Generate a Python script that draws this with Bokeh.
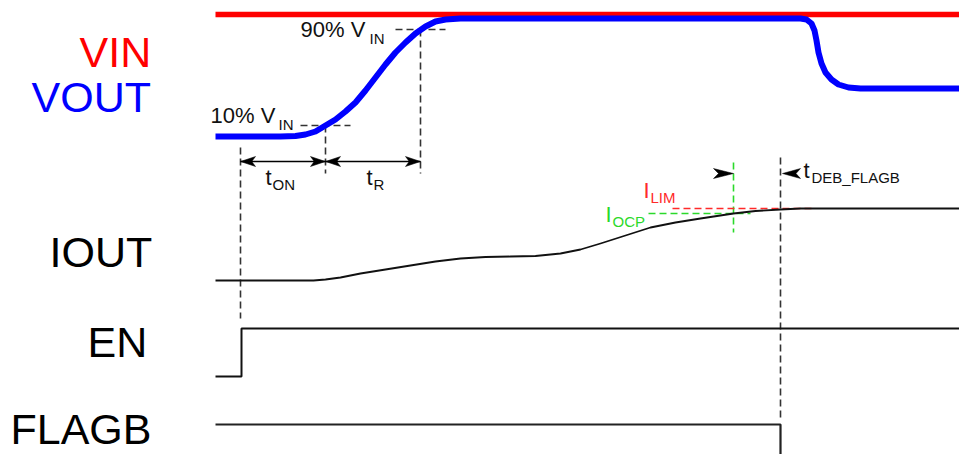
from bokeh.plotting import figure
from bokeh.models import Range1d
from bokeh.core.properties import value
from bokeh.embed import file_html
from bokeh.resources import INLINE

FONT = value("Liberation Sans")

# ---- waveform data (time in diagram units, level in diagram units; y grows downward) ----
vin_t = [215, 975]
vin_v = [14, 14]

vout_t = [215, 280, 295, 305, 315, 325, 335, 345, 355, 365, 375, 385, 395, 405, 415,
          425, 435, 445, 460, 800, 806, 811, 814, 816, 818, 821, 825, 831, 838, 848, 860, 975]
vout_v = [136, 136, 135.5, 134, 131, 125, 119, 111, 102, 90, 77, 64, 52, 42, 33,
          26, 21, 19, 18, 18, 19, 23, 30, 40, 52, 63, 72, 79, 84, 87, 88, 88]

iout_t = [215, 313, 325, 340, 360, 385, 410, 435, 460, 485, 510, 535, 560, 580, 600,
          625, 650, 675, 700, 733, 755, 780, 800, 975]
iout_v = [280, 280, 279, 277, 273, 269, 265, 261, 258, 256.5, 256, 255.5, 253, 249, 243,
          235, 227, 222, 218, 213, 210.5, 209, 208, 208]

en_t = [215, 241, 241, 975]
en_v = [376, 376, 328, 328]

flagb_t = [215, 780, 780]
flagb_v = [424, 424, 475]

# ---- timing markers ----
t_en = 240
t_10, v_10 = 325, 125
t_90, v_90 = 420, 29
t_ocp = 733
t_flag = 780
i_lim = 208
i_ocp = 213

# ---- labels ----
sig_labels = ["VIN", "VOUT", "IOUT", "EN", "FLAGB"]
sig_colors = ["#ff0000", "#0000ff", "#000000", "#000000", "#000000"]
sig_x = [79, 31, 49, 87, 10]
sig_y = [51, 96, 251, 341, 428]

p = figure(width=959, height=454, x_range=Range1d(0, 959), y_range=Range1d(454, 0),
           output_backend="svg", toolbar_location=None, min_border=0,
           x_axis_location=None, y_axis_location=None)
p.grid.visible = False
p.outline_line_color = None
p.background_fill_color = "white"

DASH = "7 4"
GRAY = "#333333"
GREEN = "#2bd92b"
RED = "#ff2a2a"

# black dashed guide lines
p.multi_line(xs=[[t_en, t_en], [t_10, t_10], [t_90, t_90], [t_flag, t_flag],
                 [300, 350], [395, 445]],
             ys=[[147, 318], [v_10, 173], [v_90, 173], [157, 418],
                 [v_10, v_10], [v_90, v_90]],
             line_color=GRAY, line_width=1.6, line_dash=DASH)

# green OCP guide lines
p.multi_line(xs=[[t_ocp, t_ocp], [648, 750]], ys=[[162, 232], [i_ocp, i_ocp]],
             line_color=GREEN, line_width=1.6, line_dash=DASH)
# red ILIM line
p.line([672, 815], [i_lim, i_lim], line_color=RED, line_width=1.6, line_dash=DASH)

# waveforms
p.line(iout_t, iout_v, line_color="#111111", line_width=1.8, line_join="round")
p.line(en_t, en_v, line_color="#111111", line_width=2)
p.line(flagb_t, flagb_v, line_color="#222222", line_width=2.2)
p.line(vin_t, vin_v, line_color="#ff0000", line_width=5.5)
p.line(vout_t, vout_v, line_color="#0000ff", line_width=6, line_join="round")

# arrows
arrow_y = 161
p.segment(x0=[t_en, t_10], y0=[arrow_y, arrow_y], x1=[t_10, t_90], y1=[arrow_y, arrow_y],
          line_color="black", line_width=1.6)

def head(x_tip, y, d, L=15, W=10):
    return ([x_tip, x_tip - d * L, x_tip - d * L * 0.75, x_tip - d * L],
            [y, y - W / 2, y, y + W / 2])

heads = [head(t_en, arrow_y, -1), head(t_10, arrow_y, 1),
         head(t_10, arrow_y, -1), head(t_90, arrow_y, 1),
         head(t_ocp, 173, 1, L=20, W=10), head(t_flag + 2, 173, -1, L=18, W=10)]
p.patches(xs=[h[0] for h in heads], ys=[h[1] for h in heads],
          fill_color="black", line_color="black", line_width=0.5)

# signal labels
p.text(x=sig_x, y=sig_y, text=sig_labels, text_color=sig_colors, text_font=FONT,
       text_font_size="43px", text_align="left", text_baseline="alphabetic")

# annotation texts (main part + subscript)
main_txt = ["10% V", "90% V", "t", "t", "t"]
main_x = [210, 300, 265, 366, 803]
main_y = [114.5, 28.5, 176.5, 176.5, 169.5]
sub_txt = ["IN", "IN", "ON", "R", "DEB_FLAGB"]
sub_x = [278, 369, 272, 373, 811]
sub_y = [124, 38, 184, 184, 177]

p.text(x=main_x, y=main_y, text=main_txt, text_color="#111111", text_font=FONT,
       text_font_size="22px", text_align="left", text_baseline="alphabetic")
p.text(x=sub_x, y=sub_y, text=sub_txt, text_color="#111111", text_font=FONT,
       text_font_size="15px", text_align="left", text_baseline="alphabetic")

p.text(x=[643, 605], y=[189.5, 213.5], text=["I", "I"], text_color=[RED, GREEN], text_font=FONT,
       text_font_size="22px", text_align="left", text_baseline="alphabetic")
p.text(x=[650, 612], y=[197, 221], text=["LIM", "OCP"], text_color=[RED, GREEN], text_font=FONT,
       text_font_size="15px", text_align="left", text_baseline="alphabetic")

open("out.html", "w").write(file_html(p, INLINE))
